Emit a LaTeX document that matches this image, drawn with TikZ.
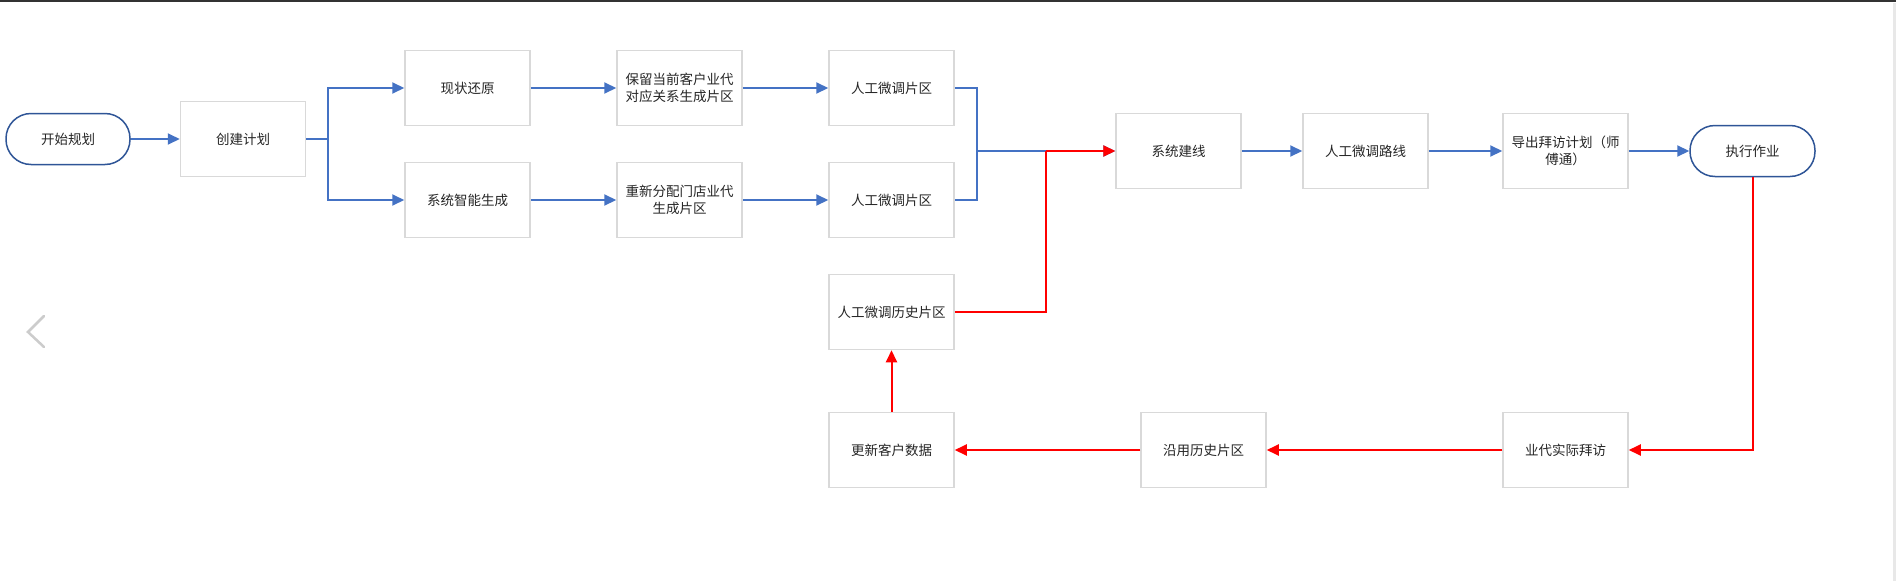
\documentclass[tikz,border=0pt]{standalone}
\usepackage{fontspec}
\newfontfamily\cjk{Noto Sans CJK SC}
\usetikzlibrary{arrows.meta}
\definecolor{lineblue}{HTML}{4472C4}
\definecolor{pillblue}{HTML}{2F5597}
\definecolor{boxgray}{HTML}{D9D9D9}
\definecolor{txtgray}{HTML}{262626}
\definecolor{redline}{HTML}{FF0000}
\tikzset{
  stepbox/.style={draw=boxgray, line width=1.5pt, fill=white, minimum width=125pt, minimum height=75pt, inner sep=0pt, align=center, text=txtgray, font=\cjk\fontsize{13.5pt}{17pt}\selectfont},
  pill/.style={draw=pillblue, line width=1.5pt, fill=white, rounded corners=25pt, minimum width=124pt, minimum height=51pt, inner sep=0pt, align=center, text=txtgray, font=\cjk\fontsize{13.5pt}{17pt}\selectfont},
  bflow/.style={draw=lineblue, line width=2pt, -{Triangle[length=12pt,width=11pt]}},
  bline/.style={draw=lineblue, line width=2pt},
  rflow/.style={draw=redline, line width=2pt, -{Triangle[length=12pt,width=11pt]}},
  rline/.style={draw=redline, line width=2pt},
}
\begin{document}
\begin{tikzpicture}[x=1pt,y=-1pt]
\fill[white] (0,0) rectangle (1896,581);
\useasboundingbox (0,0) rectangle (1896,581);
\draw[line width=2pt, draw={rgb,255:red,51;green,51;blue,51}] (0,1) -- (1896,1);
\draw[line width=3pt, draw={rgb,255:red,232;green,232;blue,232}] (1894.5,3) -- (1894.5,581);
\draw[line width=2.5pt, draw={rgb,255:red,204;green,204;blue,204}, line cap=round] (44,316) -- (28,332) -- (44,347);

\node[pill] (start) at (68,139) {开始规划};
\node[stepbox] (create) at (243,139) {创建计划};
\node[stepbox] (xz) at (467.5,88) {现状还原};
\node[stepbox] (zn) at (467.5,200) {系统智能生成};
\node[stepbox] (bl) at (679.5,88) {保留当前客户业代\\对应关系生成片区};
\node[stepbox] (cx) at (679.5,200) {重新分配门店业代\\生成片区};
\node[stepbox] (tz1) at (891.5,88) {人工微调片区};
\node[stepbox] (tz2) at (891.5,200) {人工微调片区};
\node[stepbox] (lsh) at (891.5,312) {人工微调历史片区};
\node[stepbox] (gx) at (891.5,450) {更新客户数据};
\node[stepbox] (jx) at (1178.5,151) {系统建线};
\node[stepbox] (lx) at (1365.5,151) {人工微调路线};
\node[stepbox] (dc) at (1565.5,151) {导出拜访计划（师\\傅通）};
\node[pill, minimum width=125pt] (zx) at (1752.5,151) {执行作业};
\node[stepbox] (yy) at (1203.5,450) {沿用历史片区};
\node[stepbox] (yd) at (1565.5,450) {业代实际拜访};

\coordinate (br) at (328,139);
\coordinate (mg) at (977,151);
\coordinate (rj) at (1046,151);

\draw[bflow] (start) -- (create);
\draw[bline] (create.east) -- (br);
\draw[bflow] (br) |- (xz.west);
\draw[bflow] (br) |- (zn.west);
\draw[bflow] (xz) -- (bl);
\draw[bflow] (zn) -- (cx);
\draw[bflow] (bl) -- (tz1);
\draw[bflow] (cx) -- (tz2);
\draw[bline] (tz1.east) -| (mg);
\draw[bline] (tz2.east) -| (mg);
\draw[bflow] (mg) -- (jx.west);
\draw[rline] (lsh.east) -| (rj);
\draw[rflow] (rj) -- (jx.west);
\draw[bflow] (jx) -- (lx);
\draw[bflow] (lx) -- (dc);
\draw[bflow] (dc) -- (zx);
\draw[rflow] (zx.south) |- (yd.east);
\draw[rflow] (yd) -- (yy);
\draw[rflow] (yy) -- (gx);
\draw[rflow] (gx) -- (lsh);
\end{tikzpicture}
\end{document}
